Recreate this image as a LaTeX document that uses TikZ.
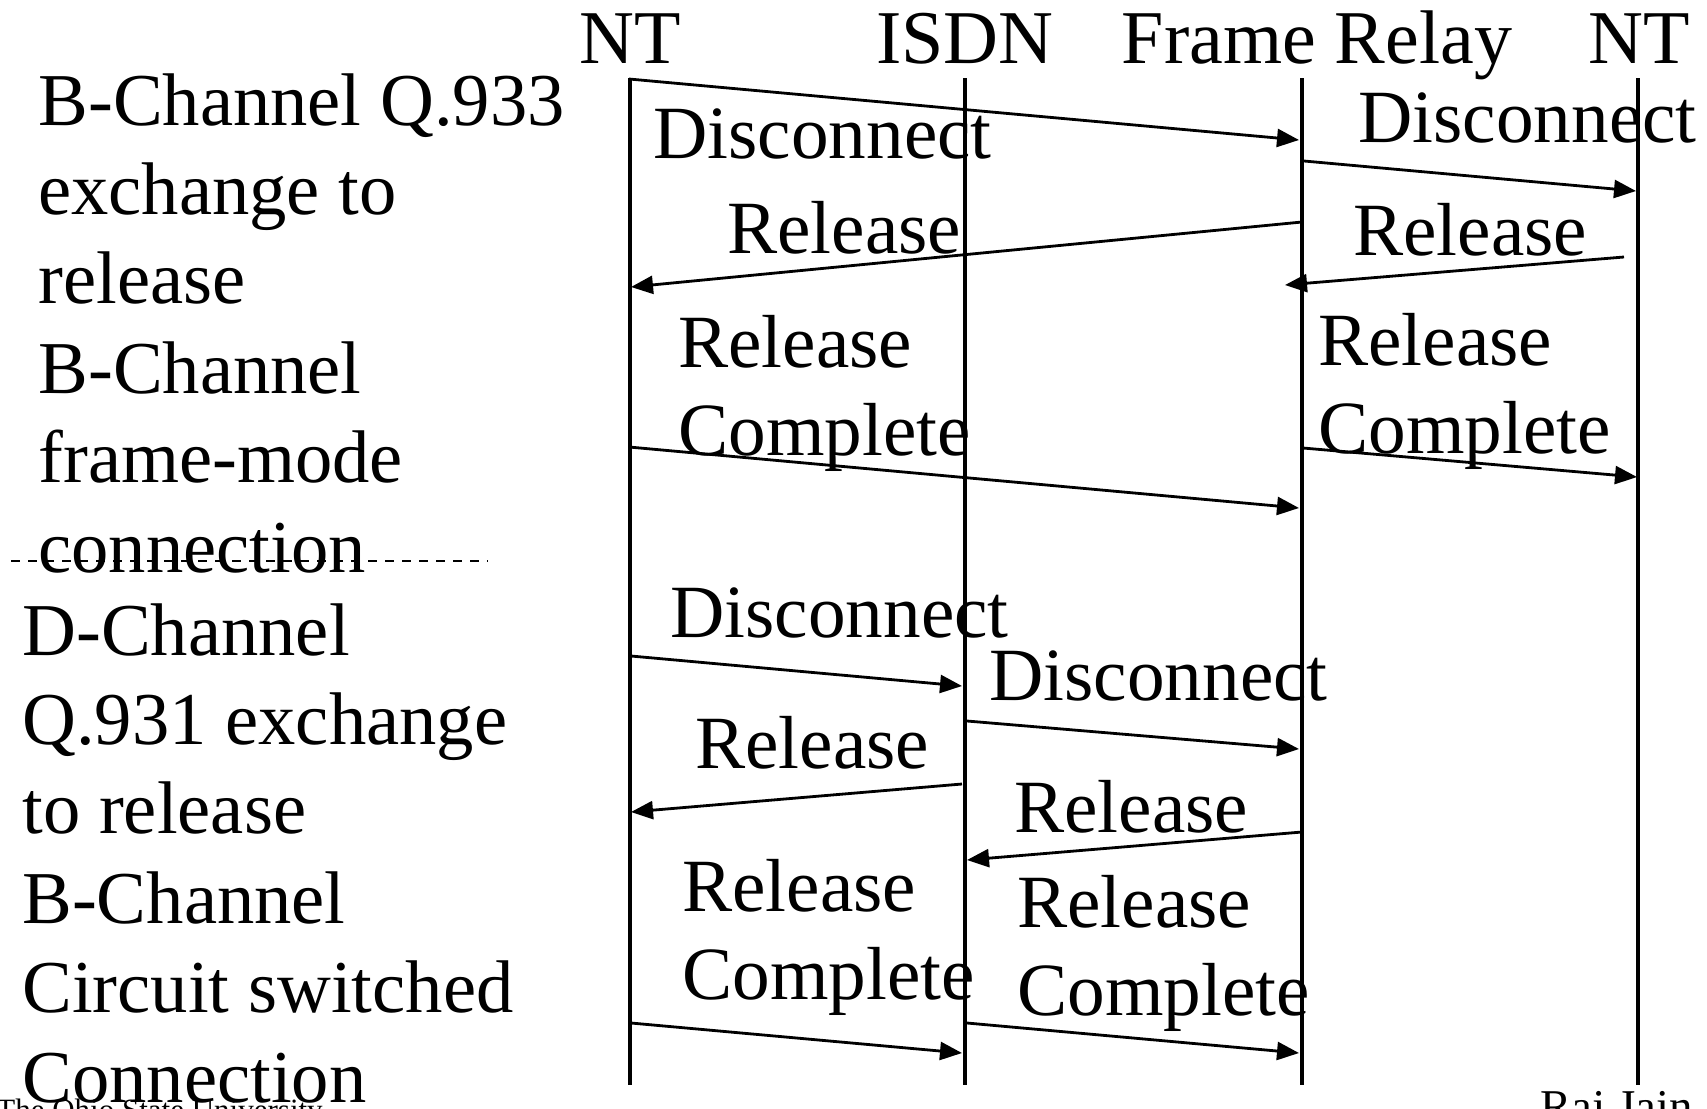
\documentclass[tikz,border=0pt]{standalone}
\usepackage{fontspec}
\setmainfont{Liberation Serif}
\usetikzlibrary{arrows.meta}
\tikzset{
    every node/.append style={inner sep=0pt},
    head/.style={anchor=base, font=\fontsize{38}{44}\selectfont},
    big/.style={anchor=base west, align=left, font=\fontsize{37.6}{44}\selectfont},
    side/.style={anchor=base west, align=left, font=\fontsize{37.3}{44.7}\selectfont},
    lifeline/.style={line width=1.55pt},
    msg/.style={draw, line width=1.4pt, -{Triangle[length=11pt,width=9pt]}},
    sepline/.style={dash pattern=on 4.5pt off 4pt, line width=1pt}
}

\begin{document}
\begin{tikzpicture}[x=0.5pt, y=-0.5pt]
    \useasboundingbox (0,0) rectangle (1707,1108);
    % entities and lifelines
    \node[head] (nt1) at (630,63) {NT};
    \node[head] (isdn) at (965,63) {ISDN};
    \node[head] (fr) at (1317,63) {Frame Relay};
    \node[head] (nt2) at (1639,63) {NT};
    \foreach \n/\x in {nt1/630, isdn/965, fr/1302, nt2/1638} {
        \coordinate (\n-top) at (\x,78);
        \coordinate (\n-bot) at (\x,1085);
        \draw[lifeline] (\n-top) -- (\n-bot);
    }

    % messages
    \foreach \i/\xa/\ya/\xb/\yb in {1/629/79/1299/140, 2/1304/161/1636/191,
        3/1302/222/631/287, 4/1624/257/1285/285, 5/629/447/1299/508,
        6/1303/448/1637/477, 7/631/656/962/686, 8/967/721/1299/749,
        9/962/784/631/812, 10/1302/832/967/860, 11/631/1023/962/1053,
        12/967/1023/1299/1053} {
        \coordinate (m\i-from) at (\xa,\ya);
        \coordinate (m\i-to) at (\xb,\yb);
        \draw[msg] (m\i-from) -- (m\i-to);
    }

    % message labels (base = last line)
    \node[big] (lab1) at (653,158) {Disconnect};
    \node[big] (lab2) at (1358,142) {Disconnect};
    \node[big] (lab3) at (727,253) {Release};
    \node[big] (lab4) at (1353,255) {Release};
    \node[big] (lab5) at (678,455) {Release\\Complete};
    \node[big] (lab6) at (1318,453) {Release\\Complete};
    \node[big] (lab7) at (670,637) {Disconnect};
    \node[big] (lab8) at (989,700) {Disconnect};
    \node[big] (lab9) at (695,768) {Release};
    \node[big] (lab10) at (1014,832) {Release};
    \node[big] (lab11) at (682,999) {Release\\Complete};
    \node[big] (lab12) at (1017,1015) {Release\\Complete};

    % side notes
    \node[side] (fmnote) at (38,572) {B-Channel Q.933\\exchange to\\release\\B-Channel\\frame-mode\\connection};
    \coordinate (sep-l) at (11,561);
    \coordinate (sep-r) at (488,561);
    \draw[sepline] (sep-l) -- (sep-r);
    \node[side] (csnote) at (22,1102) {D-Channel\\Q.931 exchange\\to release\\B-Channel\\Circuit switched\\Connection};

    % footer
    \node[anchor=base west, font=\fontsize{15.5}{18}\selectfont] (osu) at (-4,1120) {The Ohio State University};
    \node[anchor=base west, font=\fontsize{23.5}{28}\selectfont] (author) at (1540,1122) {Raj Jain};
\end{tikzpicture}
\end{document}
